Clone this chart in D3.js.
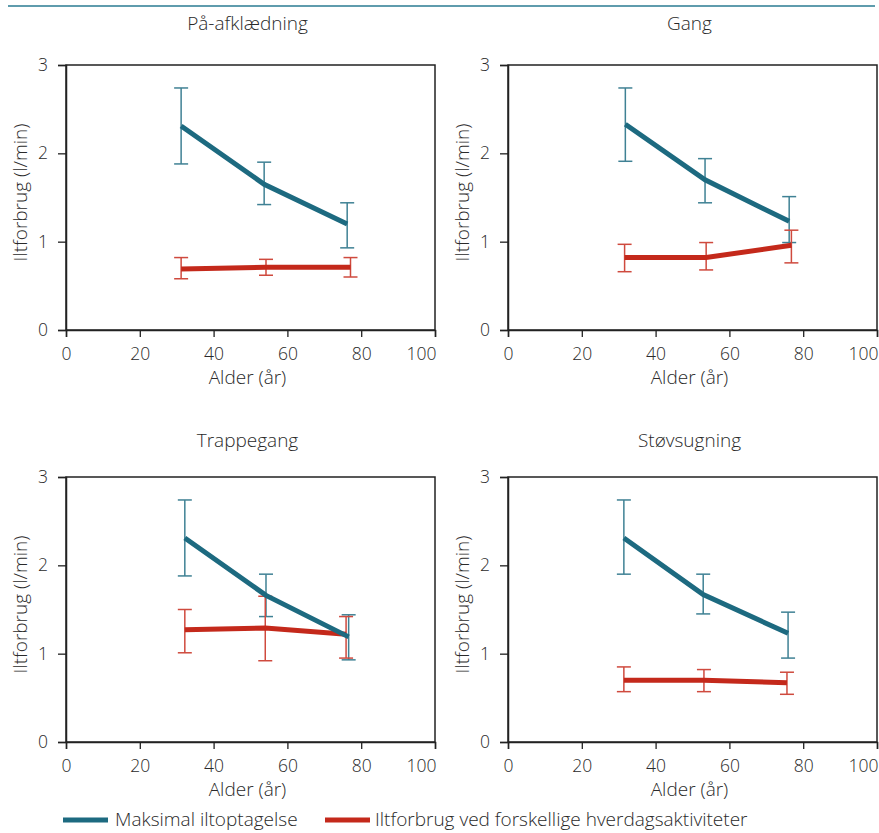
<!DOCTYPE html>
<html>
<head>
<meta charset="utf-8">
<script src="https://cdn.jsdelivr.net/npm/d3@7"></script>
<style>
  html, body { margin: 0; padding: 0; background: #fff; }
  svg { display: block; }
  text { font-family: "Open Sans", "Noto Sans", sans-serif; font-weight: 300; fill: #2a2a2a; }
</style>
</head>
<body>
<svg id="chart" width="879" height="833"></svg>
<script>
// ---- Data ----
const panelTitles = ["På-afklædning", "Gang", "Trappegang", "Støvsugning"];
const seriesNames = ["Maksimal iltoptagelse", "Iltforbrug ved forskellige hverdagsaktiviteter"];
const xTicks = [0, 20, 40, 60, 80, 100];
const yTicks = [0, 1, 2, 3];

// Maksimal iltoptagelse (teal): ages, values, error low, error high per panel
const maxAge  = [[31.2, 53.7, 76.2], [31.8, 53.4, 76.2], [32.2, 54.2, 76.6], [31.4, 52.9, 75.9]];
const maxVal  = [[2.31, 1.65, 1.20], [2.33, 1.70, 1.23], [2.31, 1.66, 1.19], [2.31, 1.67, 1.23]];
const maxLow  = [[1.88, 1.42, 0.93], [1.91, 1.44, 0.99], [1.88, 1.42, 0.93], [1.90, 1.45, 0.95]];
const maxHigh = [[2.74, 1.90, 1.44], [2.74, 1.94, 1.51], [2.74, 1.90, 1.44], [2.74, 1.90, 1.47]];

// Iltforbrug ved hverdagsaktiviteter (red)
const actAge  = [[31.2, 54.2, 77.1], [31.6, 53.7, 76.8], [32.2, 54.0, 75.9], [31.4, 53.1, 75.6]];
const actVal  = [[0.69, 0.71, 0.71], [0.82, 0.82, 0.96], [1.27, 1.29, 1.22], [0.70, 0.70, 0.67]];
const actLow  = [[0.58, 0.62, 0.60], [0.66, 0.68, 0.76], [1.01, 0.92, 0.95], [0.57, 0.57, 0.54]];
const actHigh = [[0.82, 0.80, 0.82], [0.97, 0.99, 1.13], [1.50, 1.65, 1.42], [0.85, 0.82, 0.79]];

const xLabel = "Alder (år)";
const yLabel = "Iltforbrug (l/min)";

// ---- Styling / layout ----
const colors = ["#1d6a80", "#c4291b"];
const barColors = ["#3f8194", "#cf4a3e"];
const svg = d3.select("#chart");

// header rule
svg.append("line").attr("x1", 8).attr("x2", 875).attr("y1", 6).attr("y2", 6)
  .attr("stroke", "#2a7b92").attr("stroke-width", 1.5);

const panels = [
  {x0: 66, x1: 435, y0: 330, y1: 65, ty: 30},
  {x0: 508, x1: 877, y0: 330, y1: 65, ty: 30},
  {x0: 66, x1: 435, y0: 742, y1: 477, ty: 447},
  {x0: 508, x1: 877, y0: 742, y1: 477, ty: 447}
];

const series = [
  {age: maxAge, val: maxVal, low: maxLow, high: maxHigh},
  {age: actAge, val: actVal, low: actLow, high: actHigh}
];

panels.forEach((p, i) => {
  const x = d3.scaleLinear().domain([0, 100]).range([p.x0, p.x1]);
  const y = d3.scaleLinear().domain([0, 3]).range([p.y0, p.y1]);
  const g = svg.append("g");

  // frame
  g.append("rect").attr("x", p.x0).attr("y", p.y1)
    .attr("width", p.x1 - p.x0).attr("height", p.y0 - p.y1)
    .attr("fill", "none").attr("stroke", "#222").attr("stroke-width", 1.5);

  // axes
  const xa = g.append("g").attr("transform", `translate(0,${p.y0})`)
    .call(d3.axisBottom(x).tickValues(xTicks).tickSize(7).tickPadding(11).tickFormat(d3.format("d")));
  const ya = g.append("g").attr("transform", `translate(${p.x0},0)`)
    .call(d3.axisLeft(y).tickValues(yTicks).tickSize(8).tickPadding(10).tickFormat(d3.format("d")));
  [xa, ya].forEach(a => {
    a.select(".domain").attr("stroke", "#222").attr("stroke-width", 1.5);
    a.selectAll(".tick line").attr("stroke", "#222").attr("stroke-width", 1.3);
    a.selectAll(".tick text").style("font-size", "17.5px").attr("fill", "#2a2a2a")
      .style("font-family", "'Open Sans', sans-serif").style("font-weight", 300);
  });
  // last x label sits inside the frame edge
  xa.selectAll(".tick text").filter(d => d === 100).attr("text-anchor", "end").attr("x", 1);

  // title
  g.append("text").attr("x", (p.x0 + p.x1) / 2 - 3).attr("y", p.ty)
    .attr("text-anchor", "middle").style("font-size", "19px").text(panelTitles[i]);
  // axis labels
  g.append("text").attr("x", (p.x0 + p.x1) / 2 - 3).attr("y", p.y0 + 54)
    .attr("text-anchor", "middle").style("font-size", "19px").text(xLabel);
  g.append("text")
    .attr("transform", `translate(${p.x0 - 39},${(p.y0 + p.y1) / 2 - 5}) rotate(-90)`)
    .attr("text-anchor", "middle").style("font-size", "19px").text(yLabel);

  // error bars
  series.forEach((s, si) => {
    s.age[i].forEach((a, k) => {
      const cx = x(a);
      const eb = g.append("g").attr("stroke", barColors[si]).attr("stroke-width", 1.5);
      eb.append("line").attr("x1", cx).attr("x2", cx).attr("y1", y(s.low[i][k])).attr("y2", y(s.high[i][k]));
      eb.append("line").attr("x1", cx - 7).attr("x2", cx + 7).attr("y1", y(s.low[i][k])).attr("y2", y(s.low[i][k]));
      eb.append("line").attr("x1", cx - 7).attr("x2", cx + 7).attr("y1", y(s.high[i][k])).attr("y2", y(s.high[i][k]));
    });
  });

  // lines (red first, teal on top)
  [1, 0].forEach(si => {
    const s = series[si];
    const pts = s.age[i].map((a, k) => [a, s.val[i][k]]);
    g.append("path").datum(pts)
      .attr("d", d3.line().x(d => x(d[0])).y(d => y(d[1])))
      .attr("fill", "none").attr("stroke", colors[si]).attr("stroke-width", 5);
  });
});

// legend
const legend = svg.append("g").attr("transform", "translate(0,820)");
const legItems = [{x: 63, tx: 115}, {x: 325, tx: 375}];
legItems.forEach((l, i) => {
  legend.append("line").attr("x1", l.x).attr("x2", l.x + 45).attr("y1", 0).attr("y2", 0)
    .attr("stroke", colors[i]).attr("stroke-width", 5);
  legend.append("text").attr("x", l.tx).attr("y", 6).style("font-size", "19px").text(seriesNames[i]);
});
</script>
</body>
</html>
